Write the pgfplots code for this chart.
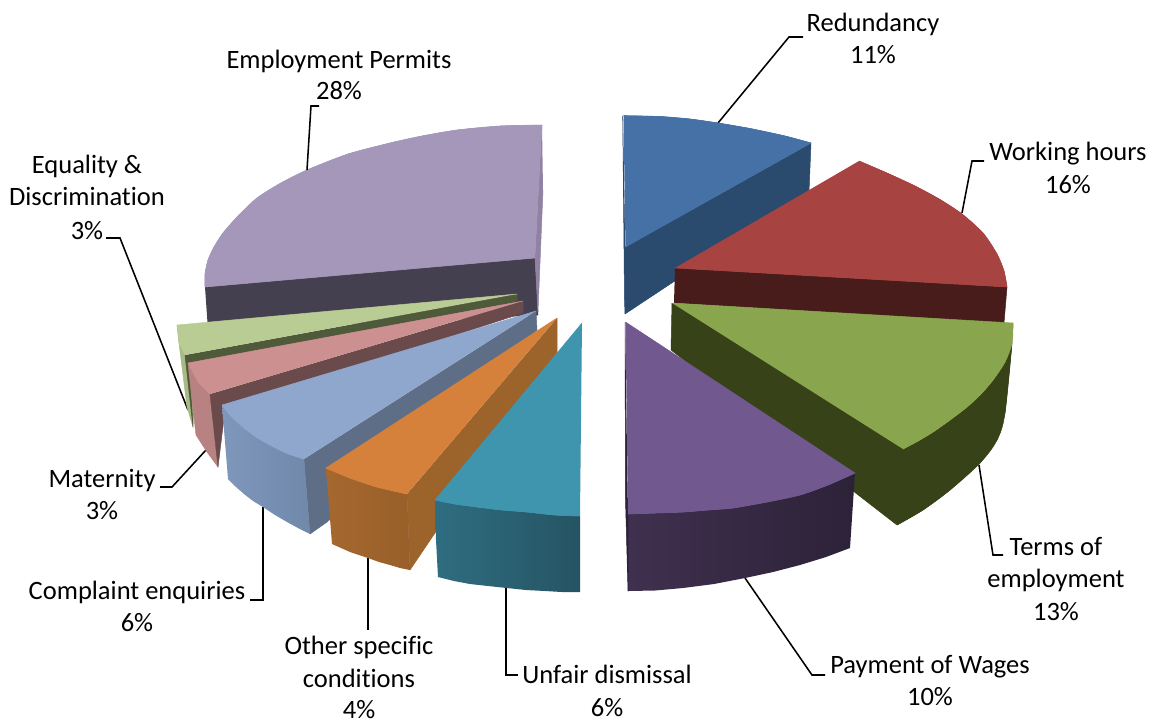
\documentclass[border=0pt]{standalone}
\usepackage{pgfplots}
\pgfplotsset{compat=1.18}
\usepackage{fontspec}
\setmainfont[Ligatures=NoCommon]{Carlito}
\definecolor{blueT}{HTML}{4571A6}\definecolor{blueD}{HTML}{2A4A6E}
\definecolor{redT}{HTML}{A74442}\definecolor{redD}{HTML}{471C1A}
\definecolor{grnT}{HTML}{89A54E}\definecolor{grnD}{HTML}{374219}
\definecolor{purT}{HTML}{71588F}\definecolor{purL}{HTML}{40304F}\definecolor{purR}{HTML}{2C2238}
\definecolor{tealT}{HTML}{3F95AE}\definecolor{tealL}{HTML}{2F6D80}\definecolor{tealR}{HTML}{255463}
\definecolor{orgT}{HTML}{D6813B}\definecolor{orgD}{HTML}{9C632B}\definecolor{orgL}{HTML}{A5682E}\definecolor{orgR}{HTML}{995F2A}
\definecolor{lbT}{HTML}{8FA6CD}\definecolor{lbD}{HTML}{5F6E87}\definecolor{lbL}{HTML}{7F97BB}\definecolor{lbR}{HTML}{7088AA}
\definecolor{pnkT}{HTML}{CD9090}\definecolor{pnkD}{HTML}{6A4A4A}\definecolor{pnkF}{HTML}{B98282}
\definecolor{lgT}{HTML}{B9CC94}\definecolor{lgD}{HTML}{4F5A3A}\definecolor{lgF}{HTML}{A8BA86}
\definecolor{lvT}{HTML}{A597B9}\definecolor{lvD}{HTML}{45404F}\definecolor{lvS}{HTML}{9182A3}
\tikzset{face/.style={fill=#1,draw=#1,line width=0.2pt,line join=round},
 arc/.style={fill=#1,draw=#1,line width=0.2pt,line join=round,smooth,tension=0.55},
 lead/.style={draw=black,line width=0.62pt,line join=miter},
 lab/.style={font=\fontsize{10.6}{12}\selectfont,inner sep=0pt,anchor=base}}
\begin{document}
\begin{tikzpicture}
\begin{axis}[scale only axis,width=461.2pt,height=288.4pt,xmin=0,xmax=1153,ymin=0,ymax=721,y dir=reverse,hide axis,clip=false]
\addplot[draw=none] coordinates {(0,0)(1153,721)};
% Employment Permits
\addplot[face=lvD] coordinates {(205,287)(535,258)(538,315)(208,330)};
\addplot[face=lvS] coordinates {(542,125)(535,258)(538,312)(543,190)};
\addplot[face=lvT] coordinates {(542,125)(500,126)(457,130)(422,136)(390,143)(348,154)(307,170)(280,183.5)(257,198)(238,216)(223,233)(214,247)(208,260)(205,274)(205,287)(535,258)};
\addplot[arc=lvT] coordinates {(542,125)(500,126)(457,130)(422,136)(390,143)(348,154)(307,170)(280,183.5)(257,198)(238,216)(223,233)(214,247)(208,260)(205,274)(205,287)};
% leaders behind
\addplot[lead] coordinates {(188,410)(120,238)(106,238)};
\addplot[lead] coordinates {(206,450)(172,487)(160,487)};
% Equality
\addplot[face=lgF] coordinates {(177,325)(179,343)(183,375)(187,407)(193,427)(195,400)(185,355)};
\addplot[face=lgD] coordinates {(517,294)(517,301)(190,372)(193,427)(185,355)};
\addplot[face=lgT] coordinates {(517,294)(177,325)(179,343)(185,355)};
% Maternity
\addplot[face=pnkF] coordinates {(188,363)(192,400)(196,435)(207,452)(218,467)(210,394)};
\addplot[face=pnkD] coordinates {(523,301)(523,313)(225,410)(218,467)(210,394)};
\addplot[face=pnkT] coordinates {(523,301)(188,363)(198,382)(210,394)};
% Complaint enquiries
\addplot[lead] coordinates {(263,507)(263,600)(250,600)};
\addplot[face=lbD] coordinates {(536,311)(537,330)(327,522)(310,534)(304,459)};
\addplot[draw=none,left color=lbL,right color=lbR] coordinates {(222,405)(225,442)(228,479)(236,487)(244,494)(253,501)(263,507)(275,515)(287,522)(298,528)(310,534)(304,459)(270,445)(243,427)};
\addplot[face=lbT] coordinates {(536,311)(222,405)(232,417)(243,427)(256,437)(270,445)(286,453)(304,459)};
\addplot[arc=lbT] coordinates {(222,405)(232,417)(243,427)(256,437)(270,445)(286,453)(304,459)};
% Other specific conditions
\addplot[lead] coordinates {(368,558)(368,630)};
\addplot[face=orgD] coordinates {(557,318)(557,352)(410,570)(407,494)};
\addplot[draw=none,left color=orgL,right color=orgR] coordinates {(326,468)(332,544)(341,548)(350,552)(359,555)(368,558)(379,562)(390,565)(400,568)(410,570)(407,494)(377,487)(350,478)};
\addplot[face=orgT] coordinates {(557,318)(326,468)(350,478)(377,487)(407,494)};
\addplot[arc=orgT] coordinates {(326,468)(350,478)(377,487)(407,494)};
% Unfair dismissal
\addplot[lead] coordinates {(506,588)(506,675)(518,675)};
\addplot[draw=none,left color=tealL,right color=tealR] coordinates {(435,500)(436,540)(438,577)(454,581)(470,584)(488,586)(507,588)(526,590)(545,591)(562,592)(580,592)(580,516)(527,512)(477,507)};
\addplot[face=tealT] coordinates {(582,323)(435,500)(455,504)(477,507)(502,510)(527,512)(555,515)(580,516)};
\addplot[arc=tealT] coordinates {(435,500)(455,504)(477,507)(502,510)(527,512)(555,515)(580,516)};
% Redundancy
\addplot[lead] coordinates {(718,123)(789,37)(803,37)};
\addplot[face=blueD] coordinates {(811,143)(809,192)(625,314)(624.5,300)(622.7,116)(625,247)};
\addplot[face=blueT] coordinates {(623.5,115.7)(660,116.5)(690,119)(718,123)(750,128.5)(785,136)(811,143)(625.5,247)};
\addplot[arc=blueT] coordinates {(623.5,115.7)(660,116.5)(690,119)(718,123)(750,128.5)(785,136)(811,143)};
% Working hours
\addplot[lead] coordinates {(962,213)(972,161)(984,161)};
\addplot[face=redD] coordinates {(675,268)(1007,287)(1004,323)(674,303)};
\addplot[face=redT] coordinates {(859,161)(888,173.5)(915,186)(940,199.5)(962,214)(983,233)(997,254)(1004,271)(1007,287)(675,268)};
\addplot[arc=redT] coordinates {(859,161)(888,173.5)(915,186)(940,199.5)(962,214)(983,233)(997,254)(1004,271)(1007,287)};
% Terms of employment
\addplot[lead] coordinates {(979,465)(993,555)(1003,555)};
\addplot[face=grnD] coordinates {(672,303)(671,350)(897,525)(923,510)(950,490)(980,463)(997,440)(1005,413)(1012,343)};
\addplot[arc=grnD] coordinates {(897,525)(923,510)(950,490)(980,463)(997,440)(1005,413)(1012,343)};
\addplot[face=grnT] coordinates {(672,303)(1013,323)(1012,343)(1005,362)(993,380)(981,394)(967,407)(950,420)(933,432)(918,441)(903,449)};
\addplot[arc=grnT] coordinates {(1013,323)(1012,343)(1005,362)(993,380)(981,394)(967,407)(950,420)(933,432)(918,441)(903,449)};
% Payment of Wages
\addplot[lead] coordinates {(745,578)(812,675)(825,675)};
\addplot[draw=none,left color=purL,right color=purR] coordinates {(628,514)(628,591)(655,590.5)(683,588)(714,584)(745,578)(773,572)(800,565)(826,557)(850,548)(855,473)(800,495)(733,508)(683,512)};
\addplot[face=purR] coordinates {(625,322)(625.5,500)(628,591)(628,514)};
\addplot[face=purT] coordinates {(625.5,322)(855,473)(828,485)(800,495)(767,502)(733,508)(708,510)(683,512)(655,513)(628,514)};
\addplot[arc=purT] coordinates {(855,473)(828,485)(800,495)(767,502)(733,508)(708,510)(683,512)(655,513)(628,514)};
% Employment leader
\addplot[lead] coordinates {(307,170)(311,106)(319,106)};
% labels
\node[lab] at (axis cs:339,68.5) {Employment Permits};
\node[lab] at (axis cs:339,99.5) {28\%};
\node[lab] at (axis cs:873,31.5) {Redundancy};
\node[lab] at (axis cs:873,63.5) {11\%};
\node[lab] at (axis cs:1068,160.5) {Working hours};
\node[lab] at (axis cs:1068,193.5) {16\%};
\node[lab] at (axis cs:1056,555.5) {Terms of};
\node[lab] at (axis cs:1056,587.5) {employment};
\node[lab] at (axis cs:1056,620.5) {13\%};
\node[lab] at (axis cs:930,673.5) {Payment of Wages};
\node[lab] at (axis cs:930,705.5) {10\%};
\node[lab] at (axis cs:607,683.5) {Unfair dismissal};
\node[lab] at (axis cs:607,716) {6\%};
\node[lab] at (axis cs:359,654.5) {Other specific};
\node[lab] at (axis cs:359,687.5) {conditions};
\node[lab] at (axis cs:359,718) {4\%};
\node[lab] at (axis cs:137,599.5) {Complaint enquiries};
\node[lab] at (axis cs:137,631.5) {6\%};
\node[lab] at (axis cs:102,487.5) {Maternity};
\node[lab] at (axis cs:102,519.5) {3\%};
\node[lab] at (axis cs:87,173.5) {Equality \&};
\node[lab] at (axis cs:87,205.5) {Discrimination};
\node[lab] at (axis cs:87,239.5) {3\%};
\end{axis}
\end{tikzpicture}
\end{document}
